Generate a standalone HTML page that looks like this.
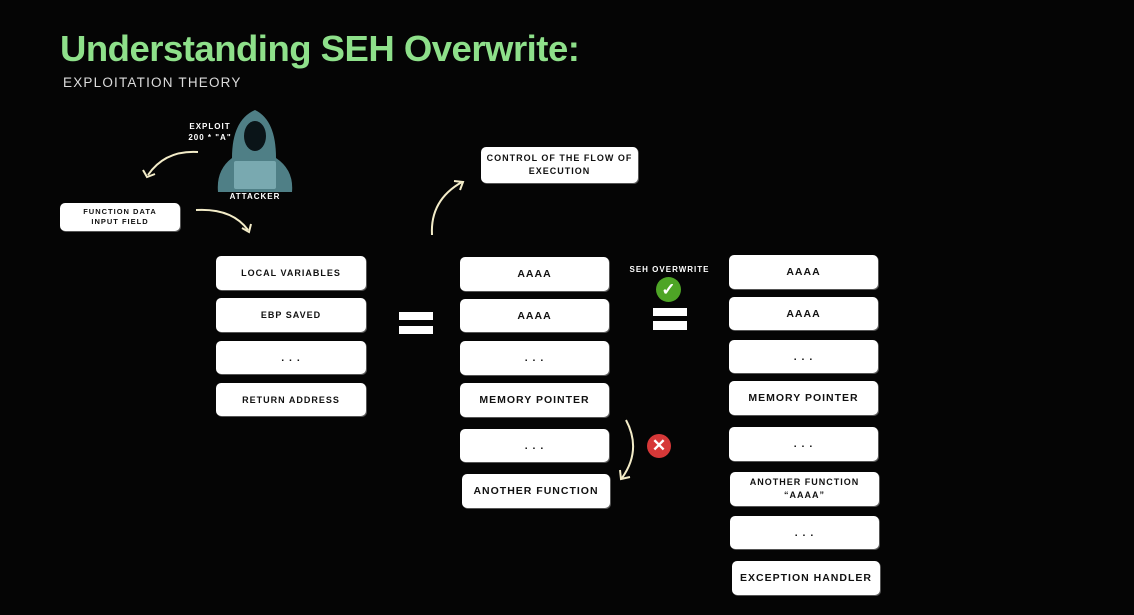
<!DOCTYPE html><html><head><style>
body{margin:0;width:1134px;height:615px;background:#050505;position:relative;overflow:hidden;font-family:"Liberation Sans",sans-serif}
.b{position:absolute;background:#fff;border-radius:5px;display:flex;align-items:center;justify-content:center;text-align:center;font-weight:bold;font-size:10.5px;letter-spacing:1px;color:#111;box-shadow:1px 1px 0 #555}
.t{position:absolute;color:#fff;font-weight:bold;font-size:8px;letter-spacing:1px;text-align:center}
.eq{position:absolute;background:#fff}
</style></head><body>
<div style="position:absolute;left:60px;top:28px;font-size:36.5px;font-weight:bold;color:#8ee08a;letter-spacing:-0.5px">Understanding SEH Overwrite:</div>
<div style="position:absolute;left:63px;top:75px;font-size:13.5px;color:#ddd;letter-spacing:1.2px">EXPLOITATION THEORY</div>

<div class="t" style="left:185px;top:121px;width:50px;line-height:11px">EXPLOIT<br>200 * "A"</div>
<svg style="position:absolute;left:210px;top:108px" width="90" height="90">
<path d="M8 84 Q6 62 22 50 Q22 12 45 2 Q66 12 66 50 Q84 62 82 84 Z" fill="#4f7f86"/>
<ellipse cx="45" cy="28" rx="11" ry="15" fill="#0a1418"/>
<rect x="24" y="53" width="42" height="28" rx="2" fill="#79a9b0"/>
</svg>
<div class="t" style="left:225px;top:192px;width:60px">ATTACKER</div>
<svg style="position:absolute;left:0;top:0" width="1134" height="615" fill="none" stroke="#f3ecc8" stroke-width="2">
<path d="M198 152 Q165 150 148 175"/><path d="M143 170 L147 177 L155 174"/>
<path d="M196 210 Q232 208 248 230"/><path d="M242 228 L249 232 L251 224"/>
<path d="M432 235 Q430 200 462 182"/><path d="M454 181 L463 182 L460 190"/>
<path d="M626 420 Q642 450 622 478"/><path d="M620 470 L621 479 L630 477"/>
</svg>
<div class="b" style="left:60px;top:203px;width:120px;height:28px;font-size:7.5px;line-height:10px">FUNCTION DATA<br>INPUT FIELD</div>
<div class="b" style="left:481px;top:147px;width:157px;height:36px;font-size:9px;line-height:13px">CONTROL OF THE FLOW OF<br>EXECUTION</div>

<div class="b" style="left:216px;top:256px;width:150px;height:34px;font-size:9px">LOCAL VARIABLES</div>
<div class="b" style="left:216px;top:298px;width:150px;height:34px;font-size:9px">EBP SAVED</div>
<div class="b" style="left:216px;top:341px;width:150px;height:33px">. . .</div>
<div class="b" style="left:216px;top:383px;width:150px;height:33px;font-size:9px">RETURN ADDRESS</div>

<div class="eq" style="left:399px;top:312px;width:34px;height:8px"></div>
<div class="eq" style="left:399px;top:326px;width:34px;height:8px"></div>

<div class="b" style="left:460px;top:257px;width:149px;height:34px">AAAA</div>
<div class="b" style="left:460px;top:299px;width:149px;height:33px">AAAA</div>
<div class="b" style="left:460px;top:341px;width:149px;height:34px">. . .</div>
<div class="b" style="left:460px;top:383px;width:149px;height:34px">MEMORY POINTER</div>
<div class="b" style="left:460px;top:429px;width:149px;height:33px">. . .</div>
<div class="b" style="left:462px;top:474px;width:148px;height:34px">ANOTHER FUNCTION</div>

<div class="t" style="left:622px;top:265px;width:95px">SEH OVERWRITE</div>
<div style="position:absolute;left:656px;top:277px;width:25px;height:25px;border-radius:50%;background:#4ea526;color:#fff;font-size:17px;font-weight:bold;text-align:center;line-height:25px">✓</div>
<div class="eq" style="left:653px;top:308px;width:34px;height:8px"></div>
<div class="eq" style="left:653px;top:321px;width:34px;height:9px"></div>
<div style="position:absolute;left:647px;top:434px;width:24px;height:24px;border-radius:50%;background:#d63838;color:#fff;font-size:17px;font-weight:bold;text-align:center;line-height:24px">✕</div>

<div class="b" style="left:729px;top:255px;width:149px;height:34px">AAAA</div>
<div class="b" style="left:729px;top:297px;width:149px;height:33px">AAAA</div>
<div class="b" style="left:729px;top:340px;width:149px;height:33px">. . .</div>
<div class="b" style="left:729px;top:381px;width:149px;height:34px">MEMORY POINTER</div>
<div class="b" style="left:729px;top:427px;width:149px;height:34px">. . .</div>
<div class="b" style="left:730px;top:472px;width:149px;height:34px;font-size:9px;line-height:13px">ANOTHER FUNCTION<br>“AAAA”</div>
<div class="b" style="left:730px;top:516px;width:149px;height:33px">. . .</div>
<div class="b" style="left:732px;top:561px;width:148px;height:34px">EXCEPTION HANDLER</div>
</body></html>
